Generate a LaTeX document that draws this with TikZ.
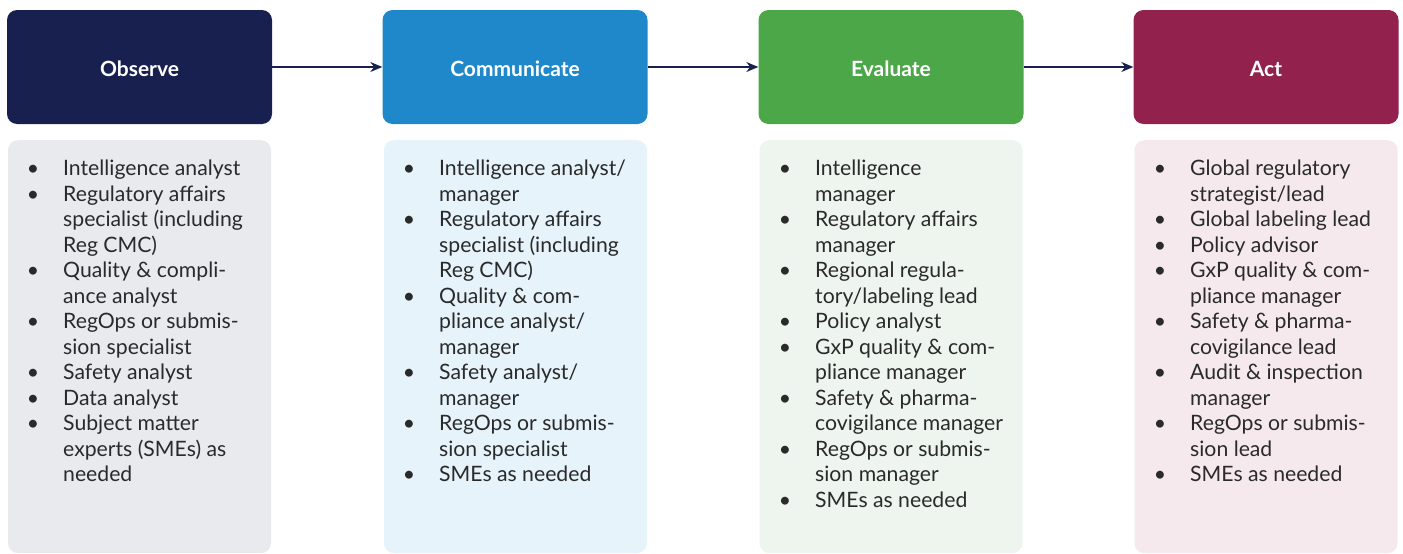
\documentclass[tikz,border=0pt]{standalone}
\usepackage{fontspec}
\setmainfont{Lato}
\usetikzlibrary{arrows.meta}

\definecolor{obsnavy}{HTML}{182050}
\definecolor{comblue}{HTML}{1F88CB}
\definecolor{evagreen}{HTML}{4BA748}
\definecolor{actplum}{HTML}{92224D}
\definecolor{obspale}{HTML}{E9EAEE}
\definecolor{compale}{HTML}{E6F3FA}
\definecolor{evapale}{HTML}{EEF5EE}
\definecolor{actpale}{HTML}{F5E9EE}
\definecolor{roletext}{HTML}{2A2A2A}

\newcommand{\rolebullet}{\llap{\textbullet\hspace{24pt}}}

\tikzset{
  head/.style={rectangle,rounded corners=10pt,minimum width=265pt,minimum height=114pt,
    inner sep=0pt,text height=19pt,text depth=0pt,text=white,
    font=\bfseries\fontsize{21}{25}\selectfont},
  panel/.style={rectangle,rounded corners=10pt,minimum width=263pt,minimum height=413pt,
    inner sep=0pt,anchor=north},
  roles/.style={anchor=north west,align=left,inner sep=0pt,text=roletext,
    font=\fontsize{21.2}{25.5}\selectfont},
  flow/.style={-{Stealth[length=12pt,width=10pt]},line width=1.3pt,obsnavy}
}

\begin{document}
\begin{tikzpicture}[x=1pt,y=-1pt]
\useasboundingbox (0,0) rectangle (1403,554);

% step headers
\node[head,fill=obsnavy] (obs) at (139.5,67) {Observe};
\node[head,fill=comblue] (com) at (515,67) {Communicate};
\node[head,fill=evagreen] (eva) at (891,67) {Evaluate};
\node[head,fill=actplum] (act) at (1266,67) {Act};

\draw[flow] (obs) -- (com);
\draw[flow] (com) -- (eva);
\draw[flow] (eva) -- (act);

% role panels
\node[panel,fill=obspale] (obsPanel) at (139.5,140) {};
\node[panel,fill=compale] (comPanel) at (515.5,140) {};
\node[panel,fill=evapale] (evaPanel) at (891,140) {};
\node[panel,fill=actpale] (actPanel) at (1266,140) {};

\node[roles] (obsRoles) at (63,160) {%
\rolebullet Intelligence analyst\\
\rolebullet Regulatory affairs\\
specialist (including\\
Reg CMC)\\
\rolebullet Quality \& compli-\\
ance analyst\\
\rolebullet RegOps or submis-\\
sion specialist\\
\rolebullet Safety analyst\\
\rolebullet Data analyst\\
\rolebullet Subject matter\\
experts (SMEs) as\\
needed};

\node[roles] (comRoles) at (439,160) {%
\rolebullet Intelligence analyst/\\
manager\\
\rolebullet Regulatory affairs\\
specialist (including\\
Reg CMC)\\
\rolebullet Quality \& com-\\
pliance analyst/\\
manager\\
\rolebullet Safety analyst/\\
manager\\
\rolebullet RegOps or submis-\\
sion specialist\\
\rolebullet SMEs as needed};

\node[roles] (evaRoles) at (815,160) {%
\rolebullet Intelligence\\
manager\\
\rolebullet Regulatory affairs\\
manager\\
\rolebullet Regional regula-\\
tory/labeling lead\\
\rolebullet Policy analyst\\
\rolebullet GxP quality \& com-\\
pliance manager\\
\rolebullet Safety \& pharma-\\
covigilance manager\\
\rolebullet RegOps or submis-\\
sion manager\\
\rolebullet SMEs as needed};

\node[roles] (actRoles) at (1190,160) {%
\rolebullet Global regulatory\\
strategist/lead\\
\rolebullet Global labeling lead\\
\rolebullet Policy advisor\\
\rolebullet GxP quality \& com-\\
pliance manager\\
\rolebullet Safety \& pharma-\\
covigilance lead\\
\rolebullet Audit \& inspection\\
manager\\
\rolebullet RegOps or submis-\\
sion lead\\
\rolebullet SMEs as needed};
\end{tikzpicture}
\end{document}
